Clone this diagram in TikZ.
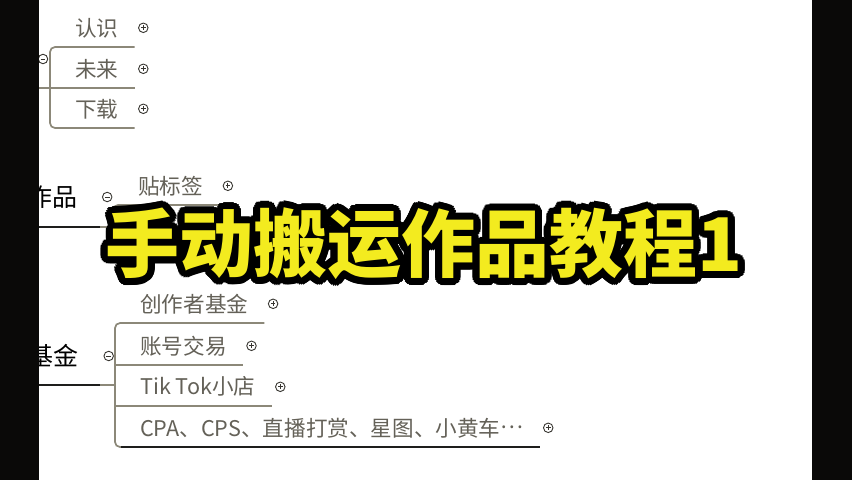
\documentclass[tikz,border=0pt]{standalone}
\usepackage{fontspec}
\usepackage{tikz}
\usetikzlibrary{positioning,calc}
\newfontfamily\cjk{Noto Sans CJK SC}
\definecolor{bar}{RGB}{10,9,8}
\definecolor{leafgray}{RGB}{100,97,88}
\definecolor{linegray}{RGB}{140,136,121}
\definecolor{trunkdark}{RGB}{30,30,28}
\definecolor{signgray}{RGB}{55,53,48}
\definecolor{titleyellow}{RGB}{243,235,31}

\begin{document}
\begin{tikzpicture}[x=1pt,y=-1pt,every node/.style={font=\cjk},
  leaf/.style={text=leafgray,font=\cjk\fontsize{21.6}{26}\selectfont,inner xsep=16pt,inner ysep=0pt,minimum height=38pt,anchor=south west},
  topic/.style={text=black,font=\cjk\fontsize{25}{30}\selectfont,inner sep=0pt,anchor=east},
  branch/.style={draw=linegray,line width=1.7pt,rounded corners=5pt},
  trunkline/.style={draw=trunkdark,line width=1.7pt},
  plus/.style={circle,draw=signgray,line width=0.9pt,minimum size=9.5pt,inner sep=0pt,
    path picture={\draw[signgray,line width=0.9pt] ([xshift=2.4pt]path picture bounding box.west) -- ([xshift=-2.4pt]path picture bounding box.east)
      ([yshift=-2.4pt]path picture bounding box.north) -- ([yshift=2.4pt]path picture bounding box.south);}},
  minus/.style={circle,draw=signgray,line width=0.9pt,minimum size=9.5pt,inner sep=0pt,
    path picture={\draw[signgray,line width=0.9pt] ([xshift=2.4pt]path picture bounding box.west) -- ([xshift=-2.4pt]path picture bounding box.east);}},
  titletext/.style={font=\cjk\bfseries\fontsize{74}{80}\selectfont,inner sep=0pt}]
  \useasboundingbox (0,0) rectangle (852,480);
  \fill[white] (0,0) rectangle (852,480);

  % top branch, its topic is off the left edge
  \coordinate (up) at (0,88);
  \coordinate (ub) at (50,88);
  \node[minus] (upm) at (43,59) {};
  \node[leaf] (renshi) at (59,47) {认识};
  \node[leaf] (weilai) at (59,88) {未来};
  \node[leaf] (xiazai) at (59,128) {下载};
  \node[plus,right=3.5pt of renshi] (renship) {};
  \node[plus,right=3.5pt of weilai] (weilaip) {};
  \node[plus,right=3.5pt of xiazai] (xiazaip) {};
  \draw[branch] (renshi.south east) -- (renshi.south west -| ub) -- (xiazai.south west -| ub) -- (xiazai.south east);
  \draw[branch] (up) -- (weilai.south east);

  % middle branch
  \node[topic] (zuopin) at (78,197) {作品};
  \node[minus,right=24pt of zuopin] (zuopinm) {};
  \coordinate (mp) at (0,227);
  \coordinate (mpe) at (100,227);
  \coordinate (mb) at (113,227);
  \node[leaf] (tiebiaoqian) at (122,205) {贴标签};
  \node[plus,right=3.5pt of tiebiaoqian] (tiebiaoqianp) {};
  \draw[branch] (tiebiaoqian.south east) -- (tiebiaoqian.south west -| mb) -- (mb) -- (mpe);
  \draw[trunkline] (mp) -- (mpe);

  % bottom branch
  \node[topic] (jijin) at (79,356) {基金};
  \node[minus,right=24.5pt of jijin] (jijinm) {};
  \coordinate (lp) at (0,385);
  \coordinate (lpe) at (100,385);
  \coordinate (lb) at (115,385);
  \node[leaf] (chuangzuozhe) at (124,323) {创作者基金};
  \node[leaf] (zhanghao) at (124,365) {账号交易};
  \node[leaf] (tiktok) at (124,406) {Tik Tok小店};
  \node[leaf] (cpa) at (124,447) {CPA、CPS、直播打赏、星图、小黄车\raisebox{0.33em}{…}};
  \node[plus,right=3.5pt of chuangzuozhe] (chuangzuozhep) {};
  \node[plus,right=3.5pt of zhanghao] (zhanghaop) {};
  \node[plus,right=3.5pt of tiktok] (tiktokp) {};
  \node[plus,right=3.5pt of cpa] (cpap) {};
  \draw[branch] (chuangzuozhe.south east) -- (chuangzuozhe.south west -| lb) -- (cpa.south west -| lb) -- (cpa.south east);
  \draw[branch] (zhanghao.south west -| lb) -- (zhanghao.south east);
  \draw[branch] (tiktok.south west -| lb) -- (tiktok.south east);
  \draw[trunkline] ([xshift=-3pt]cpa.south west) -- (cpa.south east);
  \draw[trunkline] (lp) -- (lpe);
  \draw[branch] (lpe) -- (lb);

  % title with black outline
  \coordinate (tc) at (424,244);
  \foreach \r/\k in {3.5/a,7/b}
    \foreach \a in {0,15,...,345}
      \node[titletext,text=black] (halo\k\a) at ($(tc)+(\a:\r)$) {手动搬运作品教程1};
  \node[titletext,text=titleyellow] (title) at (tc) {手动搬运作品教程1};

  % black side bars
  \fill[bar] (0,0) rectangle (39,480);
  \fill[bar] (812,0) rectangle (852,480);
\end{tikzpicture}
\end{document}
